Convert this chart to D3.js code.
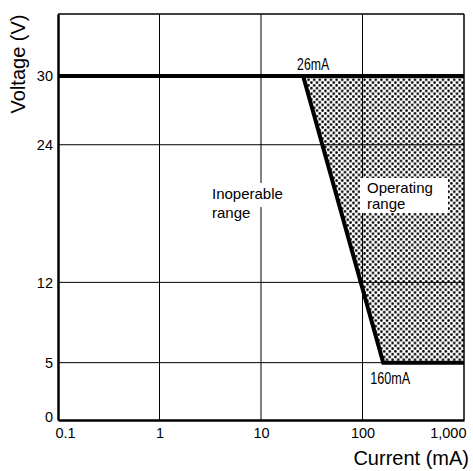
<!DOCTYPE html>
<html>
<head>
<meta charset="utf-8">
<script src="https://cdn.jsdelivr.net/npm/d3@7"></script>
<style>
  body { margin: 0; background: #fff; }
  text { font-family: "Liberation Sans", Arial, sans-serif; fill: #000; }
</style>
</head>
<body>
<div id="chart"></div>
<script>
// data
var xTicks = [0.1, 1, 10, 100, 1000];
var xTickLabels = ["0.1", "1", "10", "100", "1,000"];
var yTicks = [0, 5, 12, 24, 30];
// boundary of operating range (current mA, voltage V)
var boundaryCurrent = [0.1, 26, 160, 1000];
var boundaryVoltage = [30, 30, 5, 5];

var svgWidth = 473;
var svgHeight = 471;
var margin = { top: 14, right: 9, bottom: 51, left: 58 };
var width = svgWidth - margin.left - margin.right;
var height = svgHeight - margin.top - margin.bottom;

var svg = d3.select("#chart").append("svg")
    .attr("width", svgWidth)
    .attr("height", svgHeight);

// dot pattern
var pat = svg.append("defs").append("pattern")
    .attr("id", "dots")
    .attr("patternUnits", "userSpaceOnUse")
    .attr("width", 5.6)
    .attr("height", 5.6);
pat.append("circle").attr("cx", 1.4).attr("cy", 1.4).attr("r", 1.3).attr("fill", "#000");
pat.append("circle").attr("cx", 4.2).attr("cy", 4.2).attr("r", 1.3).attr("fill", "#000");

var g = svg.append("g")
    .attr("transform", `translate(${margin.left}, ${margin.top})`);

var x = d3.scaleLog().domain([0.1, 1000]).range([0, width]);
var y = d3.scaleLinear().domain([0, 35.4]).range([height, 0]);

var pts = boundaryCurrent.map((c, i) => [c, boundaryVoltage[i]]);

// shaded operating region
var region = pts.slice(1).concat([[1000, 30]]);
g.append("path")
    .attr("d", d3.line().x(d => x(d[0])).y(d => y(d[1]))(region) + "Z")
    .attr("fill", "url(#dots)");

// grid
g.selectAll(".vgrid").data(xTicks.slice(1, -1)).enter().append("line")
    .attr("x1", d => x(d)).attr("x2", d => x(d))
    .attr("y1", 0).attr("y2", height)
    .attr("stroke", "#000").attr("stroke-width", 1);
g.selectAll(".hgrid").data(yTicks.slice(1)).enter().append("line")
    .attr("x1", 0).attr("x2", width)
    .attr("y1", d => y(d)).attr("y2", d => y(d))
    .attr("stroke", "#000").attr("stroke-width", 1);

// frame
g.append("line").attr("x1", 0).attr("x2", width).attr("y1", 0).attr("y2", 0)
    .attr("stroke", "#000").attr("stroke-width", 1.5);
g.append("line").attr("x1", width).attr("x2", width).attr("y1", 0).attr("y2", height)
    .attr("stroke", "#000").attr("stroke-width", 1.5);

// boundary line
g.append("path")
    .attr("d", d3.line().x(d => x(d[0])).y(d => y(d[1]))(pts.concat([[1000, 5]])))
    .attr("fill", "none").attr("stroke", "#000").attr("stroke-width", 4)
    .attr("stroke-linejoin", "miter");
g.append("line")
    .attr("x1", x(26)).attr("x2", x(1000))
    .attr("y1", y(30)).attr("y2", y(30))
    .attr("stroke", "#000").attr("stroke-width", 4);

// axes
var xAxis = d3.axisBottom(x).tickValues(xTicks)
    .tickFormat((d, i) => xTickLabels[i]).tickSize(0).tickPadding(8);
var xg = g.append("g").attr("transform", `translate(0, ${height})`).call(xAxis);
xg.select(".domain").attr("stroke-width", 2.5);
xg.selectAll("text").attr("font-size", 14.5).attr("font-family", null)
    .attr("text-anchor", (d, i) => i == 0 ? "start" : (i == xTicks.length - 1 ? "end" : "middle"))
    .attr("dx", (d, i) => i == 0 ? -3 : (i == xTicks.length - 1 ? 2 : 0));

var yAxis = d3.axisLeft(y).tickValues(yTicks).tickSize(0).tickPadding(5);
var yg = g.append("g").call(yAxis);
yg.select(".domain").attr("stroke-width", 2.5);
yg.selectAll("text").attr("font-size", 14.5).attr("font-family", null);
yg.selectAll("text").filter(d => d == 0).attr("dy", "0.1em");

// annotations
g.append("text")
    .attr("x", x(26) - 6).attr("y", y(30) - 6)
    .attr("font-size", 16).attr("textLength", 32).attr("lengthAdjust", "spacingAndGlyphs")
    .text("26mA");
g.append("text")
    .attr("x", x(160) - 13).attr("y", y(5) + 21)
    .attr("font-size", 16).attr("textLength", 40).attr("lengthAdjust", "spacingAndGlyphs")
    .text("160mA");

// inoperable label
var inop = ["Inoperable", "range"];
g.append("rect")
    .attr("x", 152).attr("y", 169).attr("width", 78).attr("height", 24)
    .attr("fill", "#fff");
g.selectAll(".inop").data(inop).enter().append("text")
    .attr("x", 154).attr("y", (d, i) => 185 + i * 19)
    .attr("font-size", 15).text(d => d);

// operating label
g.append("rect")
    .attr("x", 302).attr("y", 164).attr("width", 88).attr("height", 35)
    .attr("fill", "#fff");
g.selectAll(".op").data(["Operating", "range"]).enter().append("text")
    .attr("x", 309).attr("y", (d, i) => 179 + i * 16)
    .attr("font-size", 15).text(d => d);

// axis titles
svg.append("text")
    .attr("transform", "translate(25, 64) rotate(-90)")
    .attr("text-anchor", "middle")
    .attr("font-size", 20)
    .text("Voltage (V)");
svg.append("text")
    .attr("x", 469).attr("y", 465)
    .attr("text-anchor", "end")
    .attr("font-size", 20)
    .text("Current (mA)");
</script>
</body>
</html>
